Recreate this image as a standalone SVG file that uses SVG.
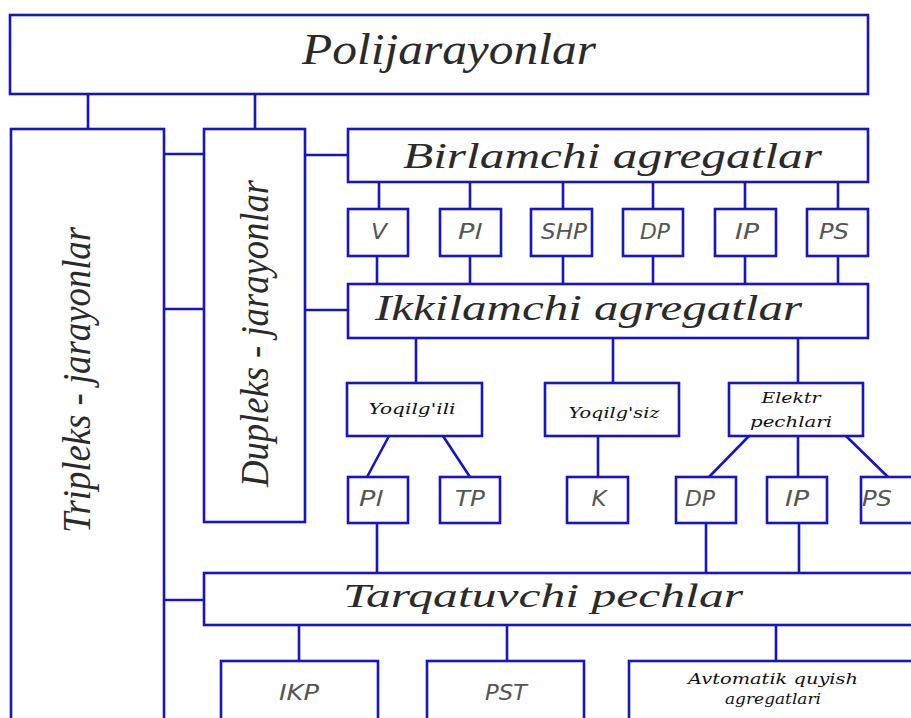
<svg xmlns="http://www.w3.org/2000/svg" width="911" height="718" viewBox="0 0 911 718">
  <style>
    .box { fill: #ffffff; stroke: #1414c8; stroke-width: 2.6; }
    .wire { fill: none; stroke: #1414c8; stroke-width: 2.6; }
    .title { font-family: "Liberation Serif", "DejaVu Serif", serif; font-style: italic; fill: #2a2a2a; }
    .mid { font-family: "DejaVu Serif", "Liberation Serif", serif; font-style: italic; font-size: 14px; fill: #111; text-anchor: middle; }
    .code { font-family: "DejaVu Sans ExtraLight", "DejaVu Sans", "Liberation Sans", sans-serif; font-weight: 200; font-style: italic; font-size: 22px; fill: #555; text-anchor: middle; }
  </style>
  <rect width="911" height="718" fill="#ffffff"/>

  <!-- connectors -->
  <g id="connectors" class="wire">
    <path d="M88 94 V129 M255 94 V129"/>
    <path d="M164 154 H204 M164 309 H204 M164 600 H204"/>
    <path d="M305 155 H348 M305 310 H348"/>
    <path d="M379 182 V209 M470 182 V209 M563 182 V209 M653 182 V209 M745 182 V209 M838 182 V209"/>
    <path d="M377 256 V284 M470 256 V284 M563 256 V284 M653 256 V284 M745 256 V284 M838 256 V284"/>
    <path d="M416 338 V383 M613 338 V383 M798 338 V383"/>
    <path d="M389 436 L367 477 M443 436 L470 477 M598 436 V477"/>
    <path d="M749 436 L709 477 M798 436 V477 M846 436 L888 477"/>
    <path d="M377 523 V573 M706 523 V573 M799 523 V573"/>
    <path d="M299 625 V661 M507 625 V661 M776 625 V661"/>
  </g>

  <g id="polijarayonlar">
    <rect class="box" x="10" y="15" width="858" height="79"/>
    <text class="title" x="449" y="64" font-size="44" text-anchor="middle" textLength="294" lengthAdjust="spacingAndGlyphs">Polijarayonlar</text>
  </g>

  <g id="tripleks">
    <rect class="box" x="11" y="129" width="153" height="600"/>
    <text class="title" transform="translate(90 533) rotate(-90)" x="0" y="0" font-size="40" textLength="306" lengthAdjust="spacingAndGlyphs">Tripleks - jarayonlar</text>
  </g>

  <g id="dupleks">
    <rect class="box" x="204" y="129" width="101" height="393"/>
    <text class="title" transform="translate(268 487) rotate(-90)" x="0" y="0" font-size="40" textLength="307" lengthAdjust="spacingAndGlyphs">Dupleks - jarayonlar</text>
  </g>

  <g id="birlamchi">
    <rect class="box" x="348" y="129" width="520" height="53"/>
    <text class="title" x="403" y="168" font-size="35" textLength="419" lengthAdjust="spacingAndGlyphs">Birlamchi agregatlar</text>
  </g>

  <g id="b-v"><rect class="box" x="348" y="209" width="60" height="47"/><text class="code" x="379" y="239" textLength="16" lengthAdjust="spacingAndGlyphs">V</text></g>
  <g id="b-pl"><rect class="box" x="440" y="209" width="61" height="47"/><text class="code" x="470" y="239" textLength="24" lengthAdjust="spacingAndGlyphs">Pl</text></g>
  <g id="b-shp"><rect class="box" x="531" y="209" width="61" height="47"/><text class="code" x="564" y="239" textLength="46" lengthAdjust="spacingAndGlyphs">SHP</text></g>
  <g id="b-dp"><rect class="box" x="623" y="209" width="60" height="47"/><text class="code" x="655" y="239" textLength="30" lengthAdjust="spacingAndGlyphs">DP</text></g>
  <g id="b-ip"><rect class="box" x="715" y="209" width="61" height="47"/><text class="code" x="747" y="239" textLength="24" lengthAdjust="spacingAndGlyphs">IP</text></g>
  <g id="b-ps"><rect class="box" x="807" y="209" width="61" height="47"/><text class="code" x="834" y="239" textLength="30" lengthAdjust="spacingAndGlyphs">PS</text></g>

  <g id="ikkilamchi">
    <rect class="box" x="348" y="284" width="520" height="54"/>
    <text class="title" x="375" y="320" font-size="36" textLength="427" lengthAdjust="spacingAndGlyphs">Ikkilamchi agregatlar</text>
  </g>

  <g id="yoqilgili">
    <rect class="box" x="347" y="383" width="135" height="53"/>
    <text class="mid" x="412" y="414" textLength="87" lengthAdjust="spacingAndGlyphs">Yoqilg'ili</text>
  </g>
  <g id="yoqilgsiz">
    <rect class="box" x="545" y="383" width="134" height="53"/>
    <text class="mid" x="614" y="418" textLength="91" lengthAdjust="spacingAndGlyphs">Yoqilg'siz</text>
  </g>
  <g id="elektr">
    <rect class="box" x="729" y="383" width="134" height="53"/>
    <text class="mid" x="791" y="403" textLength="59" lengthAdjust="spacingAndGlyphs">Elektr</text>
    <text class="mid" x="791" y="427" textLength="82" lengthAdjust="spacingAndGlyphs">pechlari</text>
  </g>

  <g id="c-pl"><rect class="box" x="348" y="477" width="60" height="46"/><text class="code" x="371" y="506" textLength="24" lengthAdjust="spacingAndGlyphs">Pl</text></g>
  <g id="c-tp"><rect class="box" x="440" y="477" width="60" height="46"/><text class="code" x="470" y="506" textLength="30" lengthAdjust="spacingAndGlyphs">TP</text></g>
  <g id="c-k"><rect class="box" x="567" y="477" width="61" height="46"/><text class="code" x="599" y="506" textLength="15" lengthAdjust="spacingAndGlyphs">K</text></g>
  <g id="c-dp"><rect class="box" x="676" y="477" width="60" height="46"/><text class="code" x="700" y="506" textLength="30" lengthAdjust="spacingAndGlyphs">DP</text></g>
  <g id="c-ip"><rect class="box" x="767" y="477" width="60" height="46"/><text class="code" x="797" y="506" textLength="24" lengthAdjust="spacingAndGlyphs">IP</text></g>
  <g id="c-ps"><rect class="box" x="861" y="477" width="70" height="46"/><text class="code" x="877" y="506" textLength="30" lengthAdjust="spacingAndGlyphs">PS</text></g>

  <g id="tarqatuvchi">
    <rect class="box" x="204" y="573" width="730" height="52"/>
    <text class="title" x="543" y="607" font-size="34" text-anchor="middle" textLength="400" lengthAdjust="spacingAndGlyphs">Tarqatuvchi pechlar</text>
  </g>

  <g id="ikp"><rect class="box" x="221" y="661" width="157" height="70"/><text class="code" x="299" y="700" textLength="40" lengthAdjust="spacingAndGlyphs">IKP</text></g>
  <g id="pst"><rect class="box" x="427" y="661" width="157" height="70"/><text class="code" x="506" y="700" textLength="42" lengthAdjust="spacingAndGlyphs">PST</text></g>
  <g id="avtomatik">
    <rect class="box" x="629" y="661" width="300" height="70"/>
    <text class="mid" x="773" y="684" textLength="170" lengthAdjust="spacingAndGlyphs">Avtomatik quyish</text>
    <text class="mid" x="773" y="704" textLength="96" lengthAdjust="spacingAndGlyphs">agregatlari</text>
  </g>
</svg>
